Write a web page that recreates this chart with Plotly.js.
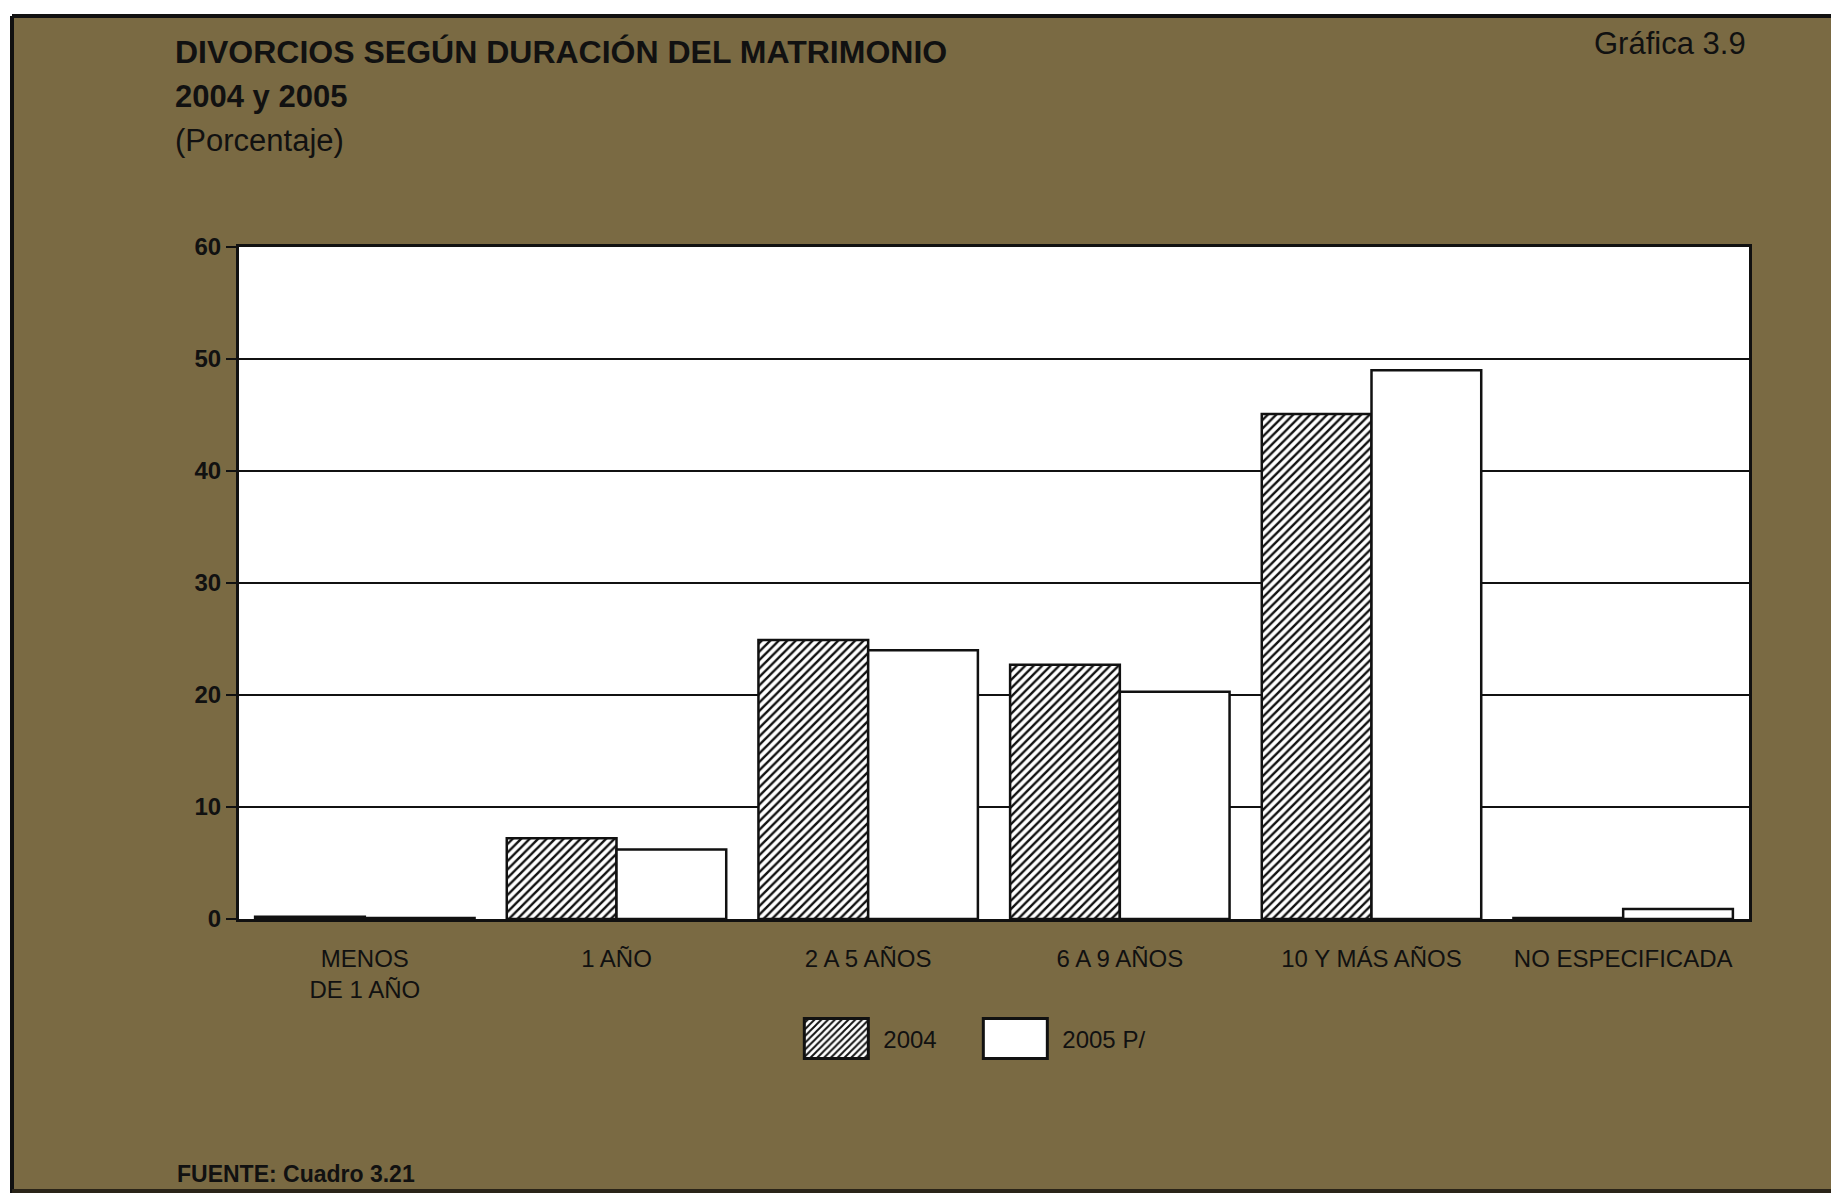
<!DOCTYPE html>
<html>
<head>
<meta charset="utf-8">
<script src="https://cdn.plot.ly/plotly-3.0.1.min.js"></script>
<style>
  html, body { margin: 0; padding: 0; background: #ffffff; }
  #chart { width: 1831px; height: 1193px; }
</style>
</head>
<body>
<div id="chart"></div>
<script>
// ---- data ----
const categories = ["MENOS<br>DE 1 AÑO", "1 AÑO", "2 A 5 AÑOS", "6 A 9 AÑOS", "10 Y MÁS AÑOS", "NO ESPECIFICADA"];
const values2004 = [0.2, 7.2, 24.9, 22.7, 45.1, 0.1];
const values2005 = [0.1, 6.2, 24.0, 20.3, 49.0, 0.9];
const seriesNames = ["2004", "2005 P/"];
const yTicks = [0, 10, 20, 30, 40, 50, 60];

const titleLine1 = "DIVORCIOS SEGÚN DURACIÓN DEL MATRIMONIO";
const titleLine2 = "2004 y 2005";
const titleLine3 = "(Porcentaje)";
const chartNumber = "Gráfica 3.9";
const sourceText = "FUENTE: Cuadro 3.21";

// ---- styling ----
const panel = "#7a6a43";
const ink = "#111111";
const font = "Liberation Sans, Arial, sans-serif";

const traces = [
  {
    type: "bar", name: seriesNames[0], x: categories, y: values2004,
    marker: {
      color: "white",
      line: { color: ink, width: 2.5 },
      pattern: { shape: "/", fgcolor: ink, bgcolor: "white", size: 6, solidity: 0.4 }
    },
    hoverinfo: "skip"
  },
  {
    type: "bar", name: seriesNames[1], x: categories, y: values2005,
    marker: { color: "white", line: { color: ink, width: 2.5 } },
    hoverinfo: "skip"
  }
];

const layout = {
  width: 1831, height: 1193,
  paper_bgcolor: panel,
  plot_bgcolor: "white",
  margin: { l: 239, r: 82, t: 247, b: 274 },
  barmode: "group",
  bargap: 0.128,
  bargroupgap: 0,
  showlegend: true,
  font: { family: font, color: ink, size: 24 },
  xaxis: {
    type: "category",
    showline: true, linecolor: ink, linewidth: 3, mirror: true,
    ticks: "", showgrid: false, zeroline: false,
    tickfont: { family: font, size: 24, color: ink },
    ticklabelstandoff: 16,
    fixedrange: true
  },
  yaxis: {
    range: [0, 60],
    tickvals: yTicks,
    showline: true, linecolor: ink, linewidth: 3, mirror: true,
    ticks: "outside", ticklen: 10, tickwidth: 2.5, tickcolor: ink,
    showgrid: true, gridcolor: ink, gridwidth: 2.5,
    zeroline: false,
    tickfont: { family: font, size: 24, color: ink, weight: "bold" },
    fixedrange: true
  },
  legend: {
    orientation: "h",
    x: 0.483, xanchor: "center",
    y: -0.1786, yanchor: "middle",
    bgcolor: "rgba(0,0,0,0)",
    font: { family: font, size: 24, color: ink },
    itemwidth: 84,
    entrywidth: 80,
    entrywidthmode: "pixels",
    traceorder: "normal",
    itemclick: false, itemdoubleclick: false
  },
  annotations: [
    { text: "<b>" + titleLine1 + "</b>", xref: "paper", yref: "paper", x: -0.0437, y: 1.2902,
      xanchor: "left", yanchor: "middle", showarrow: false, font: { family: font, size: 32, color: ink } },
    { text: "<b>" + titleLine2 + "</b>", xref: "paper", yref: "paper", x: -0.0437, y: 1.2247,
      xanchor: "left", yanchor: "middle", showarrow: false, font: { family: font, size: 31, color: ink } },
    { text: titleLine3, xref: "paper", yref: "paper", x: -0.0437, y: 1.1592,
      xanchor: "left", yanchor: "middle", showarrow: false, font: { family: font, size: 31, color: ink } },
    { text: chartNumber, xref: "paper", yref: "paper", x: 0.9993, y: 1.3021,
      xanchor: "right", yanchor: "middle", showarrow: false, font: { family: font, size: 31, color: ink } },
    { text: "<b>" + sourceText + "</b>", xref: "paper", yref: "paper", x: -0.0424, y: -0.3795,
      xanchor: "left", yanchor: "middle", showarrow: false, font: { family: font, size: 23, color: ink } }
  ],
  shapes: [
    // white page margins outside the panel
    { type: "rect", xref: "paper", yref: "paper", x0: -0.17, x1: 1.07, y0: 1.34375, y1: 1.40,
      fillcolor: "white", line: { width: 0 }, layer: "below" },
    { type: "rect", xref: "paper", yref: "paper", x0: -0.17, x1: -0.15033, y0: -0.42, y1: 1.40,
      fillcolor: "white", line: { width: 0 }, layer: "below" },
    // panel frame
    { type: "line", xref: "paper", yref: "paper", x0: -0.15033, x1: 1.06, y0: 1.34375, y1: 1.34375,
      line: { color: ink, width: 4 } },
    { type: "line", xref: "paper", yref: "paper", x0: -0.15033, x1: -0.15033, y0: 1.34375, y1: -0.42,
      line: { color: ink, width: 4 } },
    { type: "line", xref: "paper", yref: "paper", x0: -0.15033, x1: 1.06, y0: -0.4048, y1: -0.4048,
      line: { color: "#2a2418", width: 4 } }
  ]
};

Plotly.newPlot("chart", traces, layout, { staticPlot: true, displayModeBar: false }).then(function (gd) {
  // enlarge legend swatches to match the reference's big boxes
  const paths = gd.querySelectorAll(".legend .legendpoints path");
  paths.forEach(function (p) {
    p.setAttribute("d", "M32,20H-32V-20H32Z");
    p.style.strokeWidth = "3px";
  });
});
</script>
</body>
</html>
